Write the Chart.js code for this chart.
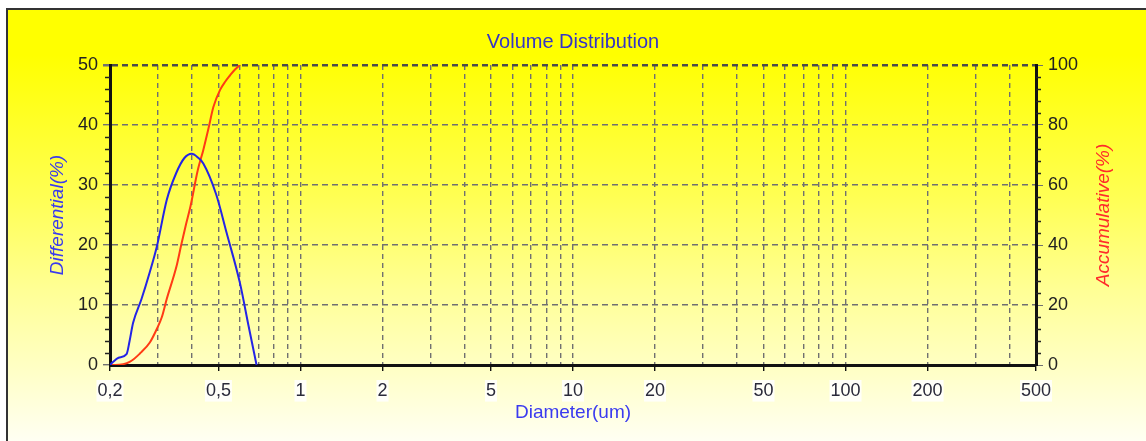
<!DOCTYPE html>
<html>
<head>
<meta charset="utf-8">
<script src="https://cdn.jsdelivr.net/npm/chart.js@4.4.0/dist/chart.umd.min.js"></script>
<style>
html, body { margin: 0; padding: 0; background: #fff; overflow: hidden; width: 1146px; height: 441px; }
#frame {
    position: absolute; left: 6px; top: 8px; width: 1200px; height: 460px;
    border: 2px solid #333;
    background: linear-gradient(to bottom, #ffff00 0px, #ffff00 45px, #ffff55 190px, #ffff95 280px, #ffffc4 357px, #fffff4 433px, #fffff8 460px);
}
#myChart { position: absolute; left: 0; top: 0; }
</style>
</head>
<body>
<div id="frame"></div>
<canvas id="myChart" width="1146" height="441"></canvas>
<script>
// grid positions and labelled ticks of the diameter axis
const xGrid = [0.2, 0.3, 0.4, 0.5, 0.6, 0.7, 0.8, 0.9, 1, 2, 3, 4, 5, 6, 7, 8, 9,
    10, 20, 30, 40, 50, 60, 70, 80, 90, 100, 200, 300, 400, 500];
const xLabels = [0.2, 0.5, 1, 2, 5, 10, 20, 50, 100, 200, 500];

// differential curve (left axis, %)
const diffDiameter = [0.2, 0.205, 0.215, 0.23, 0.236, 0.243, 0.261, 0.28, 0.297, 0.323, 0.35, 0.375, 0.399, 0.42, 0.44, 0.49, 0.536, 0.6, 0.645, 0.69];
const diffValues   = [0, 0.5, 1.2, 1.8, 4, 7, 11, 15.5, 19.7, 27.5, 32, 34.5, 35.2, 34.6, 33.6, 28.5, 22, 13.6, 6.5, 0];

// accumulative curve (right axis, %)
const cumDiameter = [0.2, 0.209, 0.237, 0.258, 0.28, 0.297, 0.31, 0.323, 0.351, 0.365, 0.38, 0.395, 0.42, 0.44, 0.46, 0.479, 0.507, 0.53, 0.551, 0.575, 0.6];
const cumValues   = [0, 0, 1.1, 3.9, 7.5, 12, 16, 22, 33, 40, 46.8, 53, 65, 71.7, 79, 86, 91.7, 94.5, 96.5, 98.5, 100];

Chart.defaults.font.family = "'Liberation Sans', Arial, sans-serif";

// small minor ticks on both value axes
const minorTicks = {
    id: 'minorTicks',
    afterDraw(chart) {
        const ctx = chart.ctx;
        const y = chart.scales.y, y1 = chart.scales.y1;
        ctx.save();
        ctx.strokeStyle = '#222';
        ctx.lineWidth = 1.5;
        ctx.beginPath();
        for (let v = 0; v <= 50; v += 2) {
            if (v % 10 === 0) continue;
            const py = Math.round(y.getPixelForValue(v)) + 0.5;
            ctx.moveTo(y.right - 5, py); ctx.lineTo(y.right, py);
        }
        for (let v = 0; v <= 100; v += 4) {
            if (v % 20 === 0) continue;
            const py = Math.round(y1.getPixelForValue(v)) + 0.5;
            ctx.moveTo(y1.left, py); ctx.lineTo(y1.left + 5, py);
        }
        ctx.stroke();
        ctx.restore();
    }
};

// right axis title reads bottom-to-top like the left one
const rightTitle = {
    id: 'rightTitle',
    afterDraw(chart) {
        const ctx = chart.ctx;
        const a = chart.chartArea;
        ctx.save();
        ctx.translate(chart.width - 42, (a.top + a.bottom) / 2);
        ctx.rotate(-Math.PI / 2);
        ctx.font = "italic 19px 'Liberation Sans', Arial, sans-serif";
        ctx.fillStyle = '#ff2a2a';
        ctx.textAlign = 'center';
        ctx.textBaseline = 'middle';
        ctx.fillText('Accumulative(%)', 0, 0);
        ctx.restore();
    }
};

const ctx = document.getElementById('myChart').getContext('2d');

const myChart = new Chart(ctx, {
    type: 'line',
    data: {
        datasets: [{
            label: 'Differential(%)',
            data: diffDiameter.map((d, i) => ({ x: d, y: diffValues[i] })),
            borderColor: '#2424e6',
            borderWidth: 2,
            pointRadius: 0,
            cubicInterpolationMode: 'monotone',
            fill: false,
            yAxisID: 'y'
        }, {
            label: 'Accumulative(%)',
            data: cumDiameter.map((d, i) => ({ x: d, y: cumValues[i] })),
            borderColor: '#ff3b14',
            borderWidth: 2,
            pointRadius: 0,
            cubicInterpolationMode: 'monotone',
            fill: false,
            yAxisID: 'y1'
        }]
    },
    options: {
        responsive: false,
        animation: false,
        layout: { padding: 0 },
        plugins: {
            legend: { display: false },
            tooltip: { enabled: false },
            title: {
                display: true,
                text: 'Volume Distribution',
                color: '#3434c8',
                font: { size: 20, weight: 'normal' },
                padding: { top: 30, bottom: 11 }
            }
        },
        scales: {
            x: {
                type: 'logarithmic',
                min: 0.2,
                max: 500,
                afterBuildTicks: s => { s.ticks = xGrid.map(v => ({ value: v })); },
                afterFit: s => { s.height = 76; },
                ticks: {
                    autoSkip: false,
                    maxRotation: 0,
                    padding: 9,
                    color: '#2a2a3a',
                    font: { size: 18 },
                    callback: v => xLabels.includes(v) ? String(v).replace('.', ',') : '',
                    showLabelBackdrop: c => !!c.tick && xLabels.includes(c.tick.value),
                    backdropColor: 'rgba(255,255,255,0.85)',
                    backdropPadding: { top: 0, bottom: 0, left: 1, right: 1 }
                },
                grid: {
                    color: '#707070',
                    lineWidth: 1.4,
                    tickLength: 6,
                    tickColor: c => (c.tick && xLabels.includes(c.tick.value)) ? '#111' : 'rgba(0,0,0,0)'
                },
                border: { color: '#111', width: 3, dash: [5, 4] },
                title: {
                    display: true,
                    text: 'Diameter(um)',
                    color: '#3b3bef',
                    font: { size: 19 },
                    padding: { top: 0, bottom: 17 }
                }
            },
            y: {
                position: 'left',
                min: 0,
                max: 50,
                afterFit: s => { s.width = 110; },
                ticks: { stepSize: 10, color: '#222', font: { size: 18 }, padding: 5 },
                grid: {
                    color: c => (c.tick && c.tick.value === 50) ? '#4a4a4a' : '#707070',
                    lineWidth: c => (c.tick && c.tick.value === 50) ? 2.5 : 1.4,
                    tickLength: 7,
                    tickColor: '#707070'
                },
                border: { color: '#111', width: 3, dash: [6, 4] },
                title: {
                    display: true,
                    text: 'Differential(%)',
                    color: '#3a3aee',
                    font: { size: 19, style: 'italic' },
                    padding: { top: 46, bottom: 0 }
                }
            },
            y1: {
                position: 'right',
                min: 0,
                max: 100,
                afterFit: s => { s.width = 110; },
                ticks: { stepSize: 20, color: '#222', font: { size: 18 }, padding: 5 },
                grid: { drawOnChartArea: false, tickLength: 7, tickColor: '#707070' },
                border: { color: '#111', width: 3 }
            }
        }
    },
    plugins: [minorTicks, rightTitle]
});
</script>
</body>
</html>
